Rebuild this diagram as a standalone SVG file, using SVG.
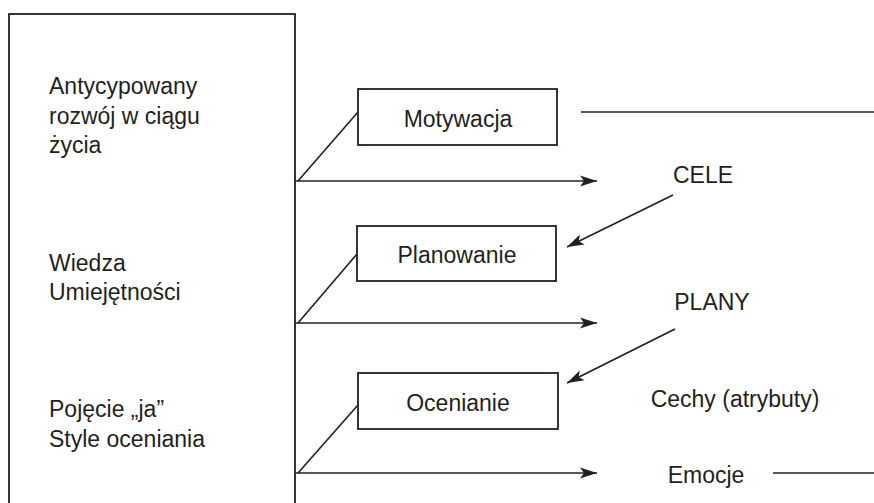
<svg xmlns="http://www.w3.org/2000/svg" width="874" height="503" viewBox="0 0 874 503">
<style>
  .ln { stroke: #231f20; stroke-width: 1.6; fill: none; }
  .box { stroke: #231f20; stroke-width: 1.8; fill: #ffffff; }
  .t { font-family: "Liberation Sans", Arial, sans-serif; font-size: 23px; fill: #231f20; }
  .c { text-anchor: middle; }
</style>
<defs>
  <marker id="arr" markerUnits="userSpaceOnUse" markerWidth="18" markerHeight="12" refX="17" refY="6" orient="auto">
    <path d="M0,0.5 L17,6 L0,11.5 L4,6 Z" fill="#231f20"/>
  </marker>
</defs>
<rect width="874" height="503" fill="#ffffff"/>

<g id="main">
  <rect class="box" x="9" y="14" width="286" height="500"/>
  <text class="t" x="49" y="94">Antycypowany</text>
  <text class="t" x="49" y="124">rozwój w ciągu</text>
  <text class="t" x="49" y="153">życia</text>
  <text class="t" x="49" y="271">Wiedza</text>
  <text class="t" x="49" y="300">Umiejętności</text>
  <text class="t" x="49" y="417">Pojęcie „ja”</text>
  <text class="t" x="49" y="447">Style oceniania</text>
</g>

<g id="motywacja">
  <rect class="box" x="358" y="89" width="199" height="56"/>
  <text class="t c" x="458" y="127">Motywacja</text>
</g>

<g id="planowanie">
  <rect class="box" x="357" y="226" width="199" height="55"/>
  <text class="t c" x="457" y="263">Planowanie</text>
</g>

<g id="ocenianie">
  <rect class="box" x="358" y="373" width="200" height="56"/>
  <text class="t c" x="458" y="411">Ocenianie</text>
</g>

<g id="cele">
  <text class="t c" x="703" y="183">CELE</text>
</g>

<g id="plany">
  <text class="t c" x="712" y="310">PLANY</text>
</g>

<g id="cechy">
  <text class="t c" x="735" y="407">Cechy (atrybuty)</text>
</g>

<g id="emocje">
  <text class="t c" x="706" y="483">Emocje</text>
</g>

<g id="connectors">
  <line class="ln" x1="298" y1="181" x2="358" y2="112"/>
  <line class="ln" x1="295" y1="181" x2="597" y2="181" marker-end="url(#arr)"/>
  <line class="ln" x1="581" y1="112" x2="874" y2="112"/>
  <line class="ln" x1="673" y1="195" x2="567" y2="247" marker-end="url(#arr)"/>

  <line class="ln" x1="298" y1="323" x2="357" y2="254"/>
  <line class="ln" x1="295" y1="323" x2="597" y2="323" marker-end="url(#arr)"/>
  <line class="ln" x1="675" y1="329" x2="567" y2="383" marker-end="url(#arr)"/>

  <line class="ln" x1="298" y1="473" x2="358" y2="405"/>
  <line class="ln" x1="295" y1="473" x2="597" y2="473" marker-end="url(#arr)"/>
  <line class="ln" x1="773" y1="473" x2="874" y2="473"/>
</g>
</svg>
